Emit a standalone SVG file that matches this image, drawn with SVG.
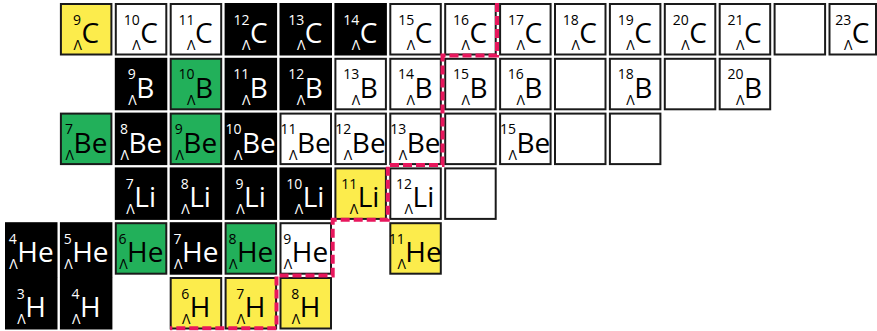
<svg xmlns="http://www.w3.org/2000/svg" width="877" height="331" viewBox="0 0 877 331">
<style>
.blk{fill:#000}
.wh{fill:#fff;stroke:#1a1a1a;stroke-width:2}
.yl{fill:#fcec4c;stroke:#1a1a1a;stroke-width:2}
.gr{fill:#22b05a;stroke:#1a1a1a;stroke-width:2}
text{font-family:"Open Sans","DejaVu Sans",sans-serif;fill:#000}
.w text{fill:#fff}
.e{font-size:28px}
.s{font-size:14px;text-anchor:end}
.l{font-size:14px;text-anchor:end}
.red{fill:none;stroke:#e8175d;stroke-width:4;stroke-dasharray:9 4}
</style>
<!-- Row C -->
<g id="C9" transform="translate(59.9,3)"><rect class="yl" x="1" y="1" width="50.5" height="50.5"/><text class="s" x="21.1" y="21.5">9</text><text class="l" x="22.1" y="47">Λ</text><text class="e" x="21.6" y="40">C</text></g>
<g id="C10" transform="translate(114.8,3)"><rect class="wh" x="1" y="1" width="50.5" height="50.5"/><text class="s" x="24.85" y="21.5">10</text><text class="l" x="25.85" y="47">Λ</text><text class="e" x="25.35" y="40">C</text></g>
<g id="C11" transform="translate(169.7,3)"><rect class="wh" x="1" y="1" width="50.5" height="50.5"/><text class="s" x="24.85" y="21.5">11</text><text class="l" x="25.85" y="47">Λ</text><text class="e" x="25.35" y="40">C</text></g>
<g id="C12" class="w" transform="translate(224.6,3)"><rect class="blk" width="52.5" height="52.5"/><text class="s" x="24.85" y="21.5">12</text><text class="l" x="25.85" y="47">Λ</text><text class="e" x="25.35" y="40">C</text></g>
<g id="C13" class="w" transform="translate(279.5,3)"><rect class="blk" width="52.5" height="52.5"/><text class="s" x="24.85" y="21.5">13</text><text class="l" x="25.85" y="47">Λ</text><text class="e" x="25.35" y="40">C</text></g>
<g id="C14" class="w" transform="translate(334.4,3)"><rect class="blk" width="52.5" height="52.5"/><text class="s" x="24.85" y="21.5">14</text><text class="l" x="25.85" y="47">Λ</text><text class="e" x="25.35" y="40">C</text></g>
<g id="C15" transform="translate(389.3,3)"><rect class="wh" x="1" y="1" width="50.5" height="50.5"/><text class="s" x="24.85" y="21.5">15</text><text class="l" x="25.85" y="47">Λ</text><text class="e" x="25.35" y="40">C</text></g>
<g id="C16" transform="translate(444.2,3)"><rect class="wh" x="1" y="1" width="50.5" height="50.5"/><text class="s" x="24.85" y="21.5">16</text><text class="l" x="25.85" y="47">Λ</text><text class="e" x="25.35" y="40">C</text></g>
<g id="C17" transform="translate(499.1,3)"><rect class="wh" x="1" y="1" width="50.5" height="50.5"/><text class="s" x="24.85" y="21.5">17</text><text class="l" x="25.85" y="47">Λ</text><text class="e" x="25.35" y="40">C</text></g>
<g id="C18" transform="translate(554,3)"><rect class="wh" x="1" y="1" width="50.5" height="50.5"/><text class="s" x="24.85" y="21.5">18</text><text class="l" x="25.85" y="47">Λ</text><text class="e" x="25.35" y="40">C</text></g>
<g id="C19" transform="translate(608.9,3)"><rect class="wh" x="1" y="1" width="50.5" height="50.5"/><text class="s" x="24.85" y="21.5">19</text><text class="l" x="25.85" y="47">Λ</text><text class="e" x="25.35" y="40">C</text></g>
<g id="C20" transform="translate(663.8,3)"><rect class="wh" x="1" y="1" width="50.5" height="50.5"/><text class="s" x="24.85" y="21.5">20</text><text class="l" x="25.85" y="47">Λ</text><text class="e" x="25.35" y="40">C</text></g>
<g id="C21" transform="translate(718.7,3)"><rect class="wh" x="1" y="1" width="50.5" height="50.5"/><text class="s" x="24.85" y="21.5">21</text><text class="l" x="25.85" y="47">Λ</text><text class="e" x="25.35" y="40">C</text></g>
<g id="C22" transform="translate(773.6,3)"><rect class="wh" x="1" y="1" width="50.5" height="50.5"/></g>
<g id="C23" transform="translate(828.5,3)"><rect class="wh" x="1" y="1" width="46.5" height="50.5"/><text class="s" x="22.85" y="21.5">23</text><text class="l" x="23.85" y="47">Λ</text><text class="e" x="23.35" y="40">C</text></g>
<!-- Row B -->
<g id="B9" class="w" transform="translate(114.8,57.8)"><rect class="blk" width="52.5" height="52.5"/><text class="s" x="21" y="21.5">9</text><text class="l" x="22" y="47">Λ</text><text class="e" x="21.5" y="40">B</text></g>
<g id="B10" transform="translate(169.7,57.8)"><rect class="gr" x="1" y="1" width="50.5" height="50.5"/><text class="s" x="24.75" y="21.5">10</text><text class="l" x="25.75" y="47">Λ</text><text class="e" x="25.25" y="40">B</text></g>
<g id="B11" class="w" transform="translate(224.6,57.8)"><rect class="blk" width="52.5" height="52.5"/><text class="s" x="24.75" y="21.5">11</text><text class="l" x="25.75" y="47">Λ</text><text class="e" x="25.25" y="40">B</text></g>
<g id="B12" class="w" transform="translate(279.5,57.8)"><rect class="blk" width="52.5" height="52.5"/><text class="s" x="24.75" y="21.5">12</text><text class="l" x="25.75" y="47">Λ</text><text class="e" x="25.25" y="40">B</text></g>
<g id="B13" transform="translate(334.4,57.8)"><rect class="wh" x="1" y="1" width="50.5" height="50.5"/><text class="s" x="24.75" y="21.5">13</text><text class="l" x="25.75" y="47">Λ</text><text class="e" x="25.25" y="40">B</text></g>
<g id="B14" transform="translate(389.3,57.8)"><rect class="wh" x="1" y="1" width="50.5" height="50.5"/><text class="s" x="24.75" y="21.5">14</text><text class="l" x="25.75" y="47">Λ</text><text class="e" x="25.25" y="40">B</text></g>
<g id="B15" transform="translate(444.2,57.8)"><rect class="wh" x="1" y="1" width="50.5" height="50.5"/><text class="s" x="24.75" y="21.5">15</text><text class="l" x="25.75" y="47">Λ</text><text class="e" x="25.25" y="40">B</text></g>
<g id="B16" transform="translate(499.1,57.8)"><rect class="wh" x="1" y="1" width="50.5" height="50.5"/><text class="s" x="24.75" y="21.5">16</text><text class="l" x="25.75" y="47">Λ</text><text class="e" x="25.25" y="40">B</text></g>
<g id="B17" transform="translate(554,57.8)"><rect class="wh" x="1" y="1" width="50.5" height="50.5"/></g>
<g id="B18" transform="translate(608.9,57.8)"><rect class="wh" x="1" y="1" width="50.5" height="50.5"/><text class="s" x="24.75" y="21.5">18</text><text class="l" x="25.75" y="47">Λ</text><text class="e" x="25.25" y="40">B</text></g>
<g id="B19" transform="translate(663.8,57.8)"><rect class="wh" x="1" y="1" width="50.5" height="50.5"/></g>
<g id="B20" transform="translate(718.7,57.8)"><rect class="wh" x="1" y="1" width="50.5" height="50.5"/><text class="s" x="24.75" y="21.5">20</text><text class="l" x="25.75" y="47">Λ</text><text class="e" x="25.25" y="40">B</text></g>
<!-- Row Be -->
<g id="Be7" transform="translate(59.9,112.6)"><rect class="gr" x="1" y="1" width="50.5" height="50.5"/><text class="s" x="13.15" y="21.5">7</text><text class="l" x="14.15" y="47">Λ</text><text class="e" x="13.65" y="40">Be</text></g>
<g id="Be8" class="w" transform="translate(114.8,112.6)"><rect class="blk" width="52.5" height="52.5"/><text class="s" x="13.15" y="21.5">8</text><text class="l" x="14.15" y="47">Λ</text><text class="e" x="13.65" y="40">Be</text></g>
<g id="Be9" transform="translate(169.7,112.6)"><rect class="gr" x="1" y="1" width="50.5" height="50.5"/><text class="s" x="13.15" y="21.5">9</text><text class="l" x="14.15" y="47">Λ</text><text class="e" x="13.65" y="40">Be</text></g>
<g id="Be10" class="w" transform="translate(224.6,112.6)"><rect class="blk" width="52.5" height="52.5"/><text class="s" x="16.9" y="21.5">10</text><text class="l" x="17.9" y="47">Λ</text><text class="e" x="17.4" y="40">Be</text></g>
<g id="Be11" transform="translate(279.5,112.6)"><rect class="wh" x="1" y="1" width="50.5" height="50.5"/><text class="s" x="16.9" y="21.5">11</text><text class="l" x="17.9" y="47">Λ</text><text class="e" x="17.4" y="40">Be</text></g>
<g id="Be12" transform="translate(334.4,112.6)"><rect class="wh" x="1" y="1" width="50.5" height="50.5"/><text class="s" x="16.9" y="21.5">12</text><text class="l" x="17.9" y="47">Λ</text><text class="e" x="17.4" y="40">Be</text></g>
<g id="Be13" transform="translate(389.3,112.6)"><rect class="wh" x="1" y="1" width="50.5" height="50.5"/><text class="s" x="16.9" y="21.5">13</text><text class="l" x="17.9" y="47">Λ</text><text class="e" x="17.4" y="40">Be</text></g>
<g id="Be14" transform="translate(444.2,112.6)"><rect class="wh" x="1" y="1" width="50.5" height="50.5"/></g>
<g id="Be15" transform="translate(499.1,112.6)"><rect class="wh" x="1" y="1" width="50.5" height="50.5"/><text class="s" x="16.9" y="21.5">15</text><text class="l" x="17.9" y="47">Λ</text><text class="e" x="17.4" y="40">Be</text></g>
<g id="Be16" transform="translate(554,112.6)"><rect class="wh" x="1" y="1" width="50.5" height="50.5"/></g>
<g id="Be17" transform="translate(608.9,112.6)"><rect class="wh" x="1" y="1" width="50.5" height="50.5"/></g>
<!-- Row Li -->
<g id="Li7" class="w" transform="translate(114.8,167.4)"><rect class="blk" width="52.5" height="52.5"/><text class="s" x="19" y="21.5">7</text><text class="l" x="20" y="47">Λ</text><text class="e" x="19.5" y="40">Li</text></g>
<g id="Li8" class="w" transform="translate(169.7,167.4)"><rect class="blk" width="52.5" height="52.5"/><text class="s" x="19" y="21.5">8</text><text class="l" x="20" y="47">Λ</text><text class="e" x="19.5" y="40">Li</text></g>
<g id="Li9" class="w" transform="translate(224.6,167.4)"><rect class="blk" width="52.5" height="52.5"/><text class="s" x="19" y="21.5">9</text><text class="l" x="20" y="47">Λ</text><text class="e" x="19.5" y="40">Li</text></g>
<g id="Li10" class="w" transform="translate(279.5,167.4)"><rect class="blk" width="52.5" height="52.5"/><text class="s" x="22.75" y="21.5">10</text><text class="l" x="23.75" y="47">Λ</text><text class="e" x="23.25" y="40">Li</text></g>
<g id="Li11" transform="translate(334.4,167.4)"><rect class="yl" x="1" y="1" width="50.5" height="50.5"/><text class="s" x="22.75" y="21.5">11</text><text class="l" x="23.75" y="47">Λ</text><text class="e" x="23.25" y="40">Li</text></g>
<g id="Li12" transform="translate(389.3,167.4)"><rect class="wh" x="1" y="1" width="50.5" height="50.5"/><text class="s" x="22.75" y="21.5">12</text><text class="l" x="23.75" y="47">Λ</text><text class="e" x="23.25" y="40">Li</text></g>
<g id="Li13" transform="translate(444.2,167.4)"><rect class="wh" x="1" y="1" width="50.5" height="50.5"/></g>
<!-- Row He -->
<g id="He4" class="w" transform="translate(5,222.2)"><rect class="blk" width="52.5" height="55"/><text class="s" x="11.8" y="21.5">4</text><text class="l" x="12.8" y="47">Λ</text><text class="e" x="12.3" y="40">He</text></g>
<g id="He5" class="w" transform="translate(59.9,222.2)"><rect class="blk" width="52.5" height="55"/><text class="s" x="11.8" y="21.5">5</text><text class="l" x="12.8" y="47">Λ</text><text class="e" x="12.3" y="40">He</text></g>
<g id="He6" transform="translate(114.8,222.2)"><rect class="gr" x="1" y="1" width="50.5" height="50.5"/><text class="s" x="11.8" y="21.5">6</text><text class="l" x="12.8" y="47">Λ</text><text class="e" x="12.3" y="40">He</text></g>
<g id="He7" class="w" transform="translate(169.7,222.2)"><rect class="blk" width="52.5" height="52.5"/><text class="s" x="11.8" y="21.5">7</text><text class="l" x="12.8" y="47">Λ</text><text class="e" x="12.3" y="40">He</text></g>
<g id="He8" transform="translate(224.6,222.2)"><rect class="gr" x="1" y="1" width="50.5" height="50.5"/><text class="s" x="11.8" y="21.5">8</text><text class="l" x="12.8" y="47">Λ</text><text class="e" x="12.3" y="40">He</text></g>
<g id="He9" transform="translate(279.5,222.2)"><rect class="wh" x="1" y="1" width="50.5" height="50.5"/><text class="s" x="11.8" y="21.5">9</text><text class="l" x="12.8" y="47">Λ</text><text class="e" x="12.3" y="40">He</text></g>
<g id="He11" transform="translate(389.3,222.2)"><rect class="yl" x="1" y="1" width="50.5" height="50.5"/><text class="s" x="15.55" y="21.5">11</text><text class="l" x="16.55" y="47">Λ</text><text class="e" x="16.05" y="40">He</text></g>
<!-- Row H -->
<g id="H3" class="w" transform="translate(5,277)"><rect class="blk" width="52.5" height="52.5"/><text class="s" x="19.65" y="21.5">3</text><text class="l" x="20.65" y="47">Λ</text><text class="e" x="20.15" y="40">H</text></g>
<g id="H4" class="w" transform="translate(59.9,277)"><rect class="blk" width="52.5" height="52.5"/><text class="s" x="19.65" y="21.5">4</text><text class="l" x="20.65" y="47">Λ</text><text class="e" x="20.15" y="40">H</text></g>
<g id="H6" transform="translate(169.7,277)"><rect class="yl" x="1" y="1" width="50.5" height="50.5"/><text class="s" x="19.65" y="21.5">6</text><text class="l" x="20.65" y="47">Λ</text><text class="e" x="20.15" y="40">H</text></g>
<g id="H7" transform="translate(224.6,277)"><rect class="yl" x="1" y="1" width="50.5" height="50.5"/><text class="s" x="19.65" y="21.5">7</text><text class="l" x="20.65" y="47">Λ</text><text class="e" x="20.15" y="40">H</text></g>
<g id="H8" transform="translate(279.5,277)"><rect class="yl" x="1" y="1" width="50.5" height="50.5"/><text class="s" x="19.65" y="21.5">8</text><text class="l" x="20.65" y="47">Λ</text><text class="e" x="20.15" y="40">H</text></g>
<!-- dripline boundary -->
<g id="connectors">
<path class="red" d="M497,3 V55.5 H442.5 V165 H387.8 V219.7 H332.7 V275.5 H276.5 V328.3 H170"/>
</g>
</svg>
